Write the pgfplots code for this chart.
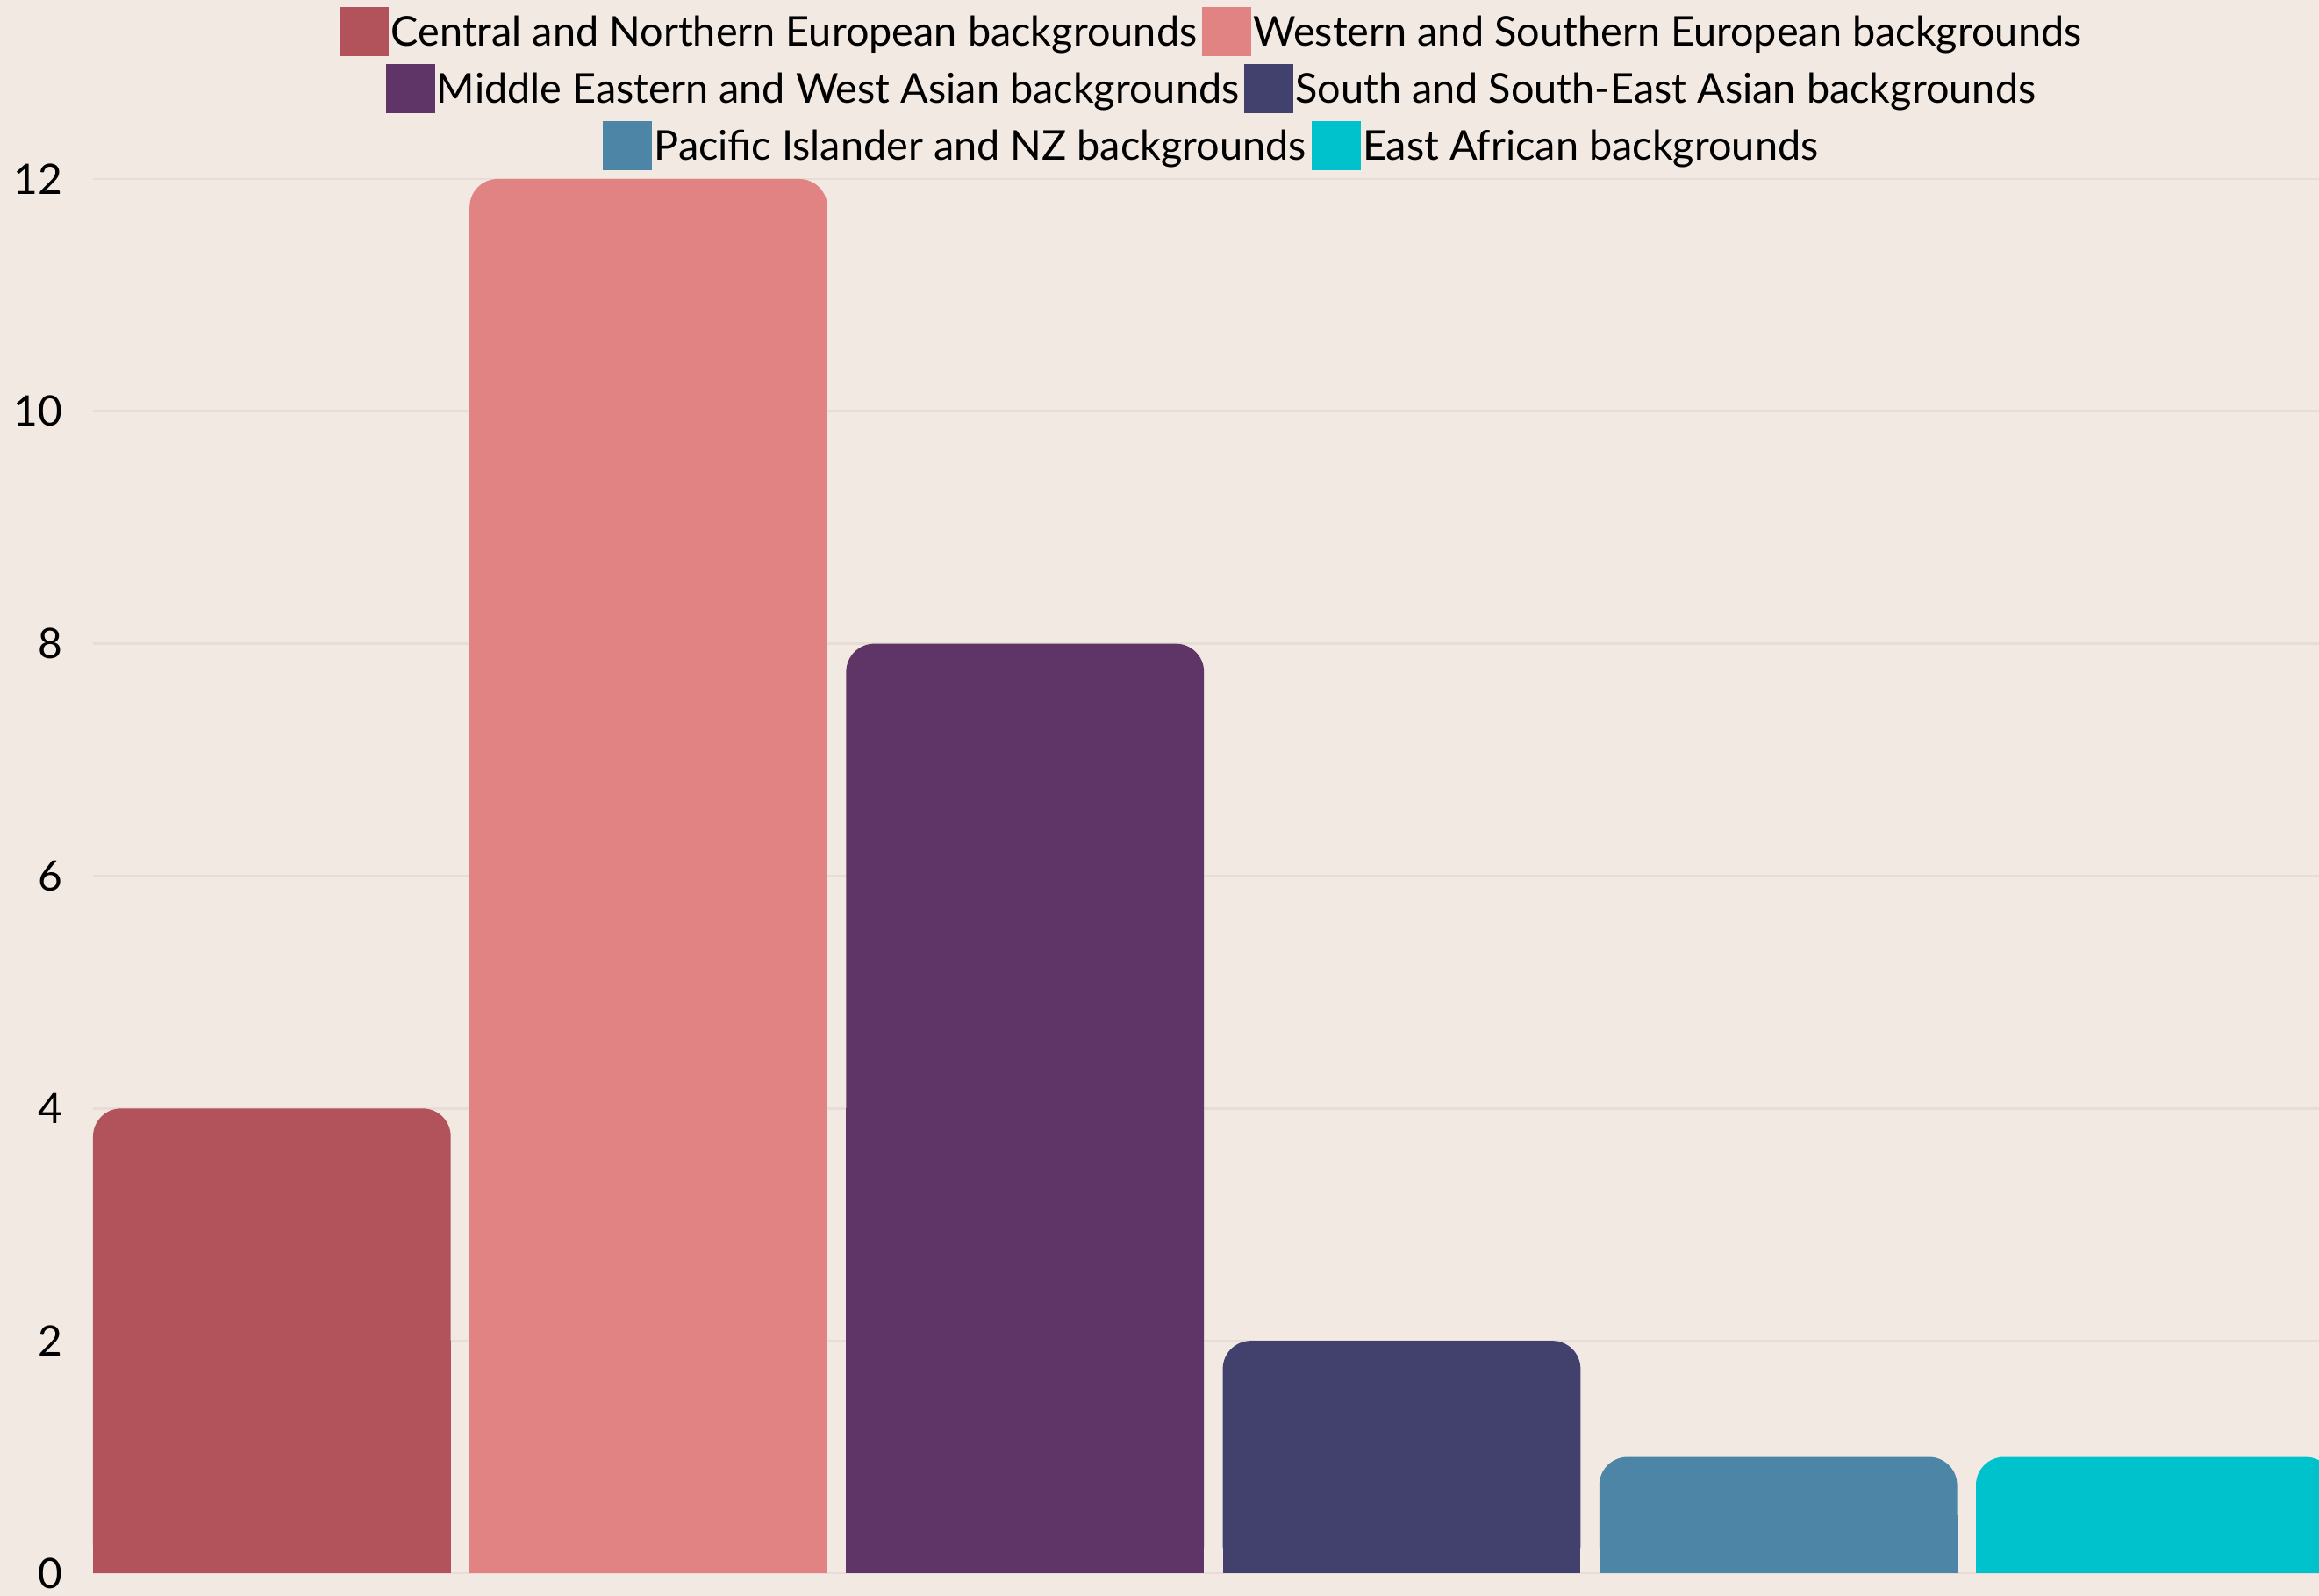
\documentclass[border=0pt]{standalone}
\usepackage{pgfplots}
\pgfplotsset{compat=1.18}
\usepackage{fontspec}
\setmainfont{Lato}
\definecolor{bg}{HTML}{F2E9E3}
\definecolor{gridc}{HTML}{E7DDD6}
\definecolor{c1}{HTML}{B2535B}
\definecolor{c2}{HTML}{E18383}
\definecolor{c3}{HTML}{5E3566}
\definecolor{c4}{HTML}{42416E}
\definecolor{c5}{HTML}{4C85A6}
\definecolor{c6}{HTML}{00C2CC}
\pgfplotsset{
  rbar/.style={ybar, bar width=0.95, bar shift=0pt, fill=#1, draw=none, rounded corners=8bp},
  sbar/.style={ybar, bar width=0.95, bar shift=0pt, fill=#1, draw=none, sharp corners, forget plot, y filter/.expression={y/2}},
  legax/.style={at={(26.5bp,6.5bp)}, anchor=south west, scale only axis, width=634.25bp, height=397.25bp,
    hide axis, xmin=0, xmax=1, ymin=0, ymax=1,
    legend columns=-1,
    legend image code/.code={\fill[##1] (0bp,-6.5bp) rectangle (14bp,7.5bp);},
    legend style={draw=none, fill=none, anchor=center, font=\fontsize{11.75}{14}\selectfont,
      nodes={inner xsep=0.6bp, inner ysep=1bp},
      /tikz/every even column/.append style={column sep=0.8bp}}},
}
\begin{document}
\begin{tikzpicture}
\fill[bg] (0,0) rectangle (660.75bp,454.75bp);
\useasboundingbox (0,0) rectangle (660.75bp,454.75bp);
\begin{axis}[
  at={(26.5bp,6.5bp)}, anchor=south west,
  scale only axis, width=634.25bp, height=397.25bp,
  xmin=-0.475, xmax=5.436, ymin=0, ymax=12,
  ytick={0,2,4,6,8,10,12}, xtick=\empty,
  ymajorgrids, grid style={line width=0.7bp, color=gridc},
  axis line style={draw=none},
  major tick length=0pt,
  yticklabel style={inner sep=0pt, anchor=east, xshift=-8.5bp, font=\fontsize{12}{14}\selectfont},
  /pgf/number format/assume math mode=true,
]
\addplot[rbar=c1] coordinates {(0,4)};
\addplot[sbar=c1] coordinates {(0,4)};
\addplot[rbar=c2] coordinates {(1,12)};
\addplot[sbar=c2] coordinates {(1,12)};
\addplot[rbar=c3] coordinates {(2,8)};
\addplot[sbar=c3] coordinates {(2,8)};
\addplot[rbar=c4] coordinates {(3,2)};
\addplot[sbar=c4] coordinates {(3,2)};
\addplot[rbar=c5] coordinates {(4,1)};
\addplot[sbar=c5] coordinates {(4,1)};
\addplot[rbar=c6] coordinates {(5,1)};
\addplot[sbar=c6] coordinates {(5,1)};
\end{axis}
\begin{axis}[legax, legend style={at={(0.5026,1.1057)}}]
\addlegendimage{fill=c1, draw=none}
\addlegendentry{Central and Northern European backgrounds}
\addlegendimage{fill=c2, draw=none}
\addlegendentry{Western and Southern European backgrounds}
\end{axis}
\begin{axis}[legax, legend style={at={(0.5026,1.0648)}}]
\addlegendimage{fill=c3, draw=none}
\addlegendentry{Middle Eastern and West Asian backgrounds}
\addlegendimage{fill=c4, draw=none}
\addlegendentry{South and South-East Asian backgrounds}
\end{axis}
\begin{axis}[legax, legend style={at={(0.5026,1.0239)}}]
\addlegendimage{fill=c5, draw=none}
\addlegendentry{Pacific Islander and NZ backgrounds}
\addlegendimage{fill=c6, draw=none}
\addlegendentry{East African backgrounds}
\end{axis}
\end{tikzpicture}
\end{document}
